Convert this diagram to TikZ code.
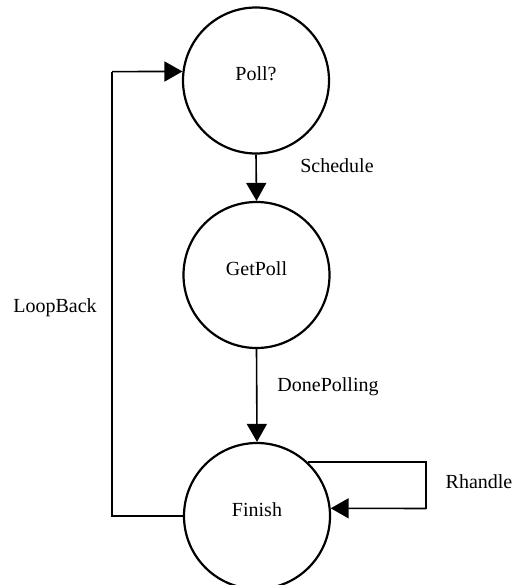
\documentclass[tikz,border=0pt]{standalone}
\usepackage{fontspec}
\setmainfont{Liberation Serif}
\usetikzlibrary{arrows.meta}
\begin{document}
\begin{tikzpicture}[x=1pt,y=-1pt,
  state/.style={circle,draw,line width=2.2pt,minimum size=146pt,inner sep=0pt,text height=13pt,text depth=12pt,font=\fontsize{20}{24}\selectfont},
  lbl/.style={font=\fontsize{20}{24}\selectfont},
  conn/.style={line width=1.6pt},
  arr/.style={conn,-{Triangle[length=18pt,width=20pt]}}]
\useasboundingbox (0,0) rectangle (514,585);
\node[state] (poll) at (256,80.5) {Poll?};
\node[state] (get) at (256.5,275) {GetPoll};
\node[state] (fin) at (257,516) {Finish};
\coordinate (lb) at (112,516);
\coordinate (lt) at (112,71.6);
\coordinate (rc) at (426,508.5);
\draw[arr] (poll.south) -- (get.north);
\draw[arr] (get.south) -- (fin.north);
\draw[conn] (fin.west) -- (lb) -- (lt);
\draw[arr] (lt) -- (poll.173);
\draw[conn] (fin.47) -| (rc);
\draw[arr] (rc) -- (fin.6);
\node[lbl] (s) at (337,166) {Schedule};
\node[lbl] (lbk) at (55,308) {LoopBack};
\node[lbl] (dp) at (328,387) {DonePolling};
\node[lbl] (rh) at (479,482) {Rhandle};
\end{tikzpicture}
\end{document}
